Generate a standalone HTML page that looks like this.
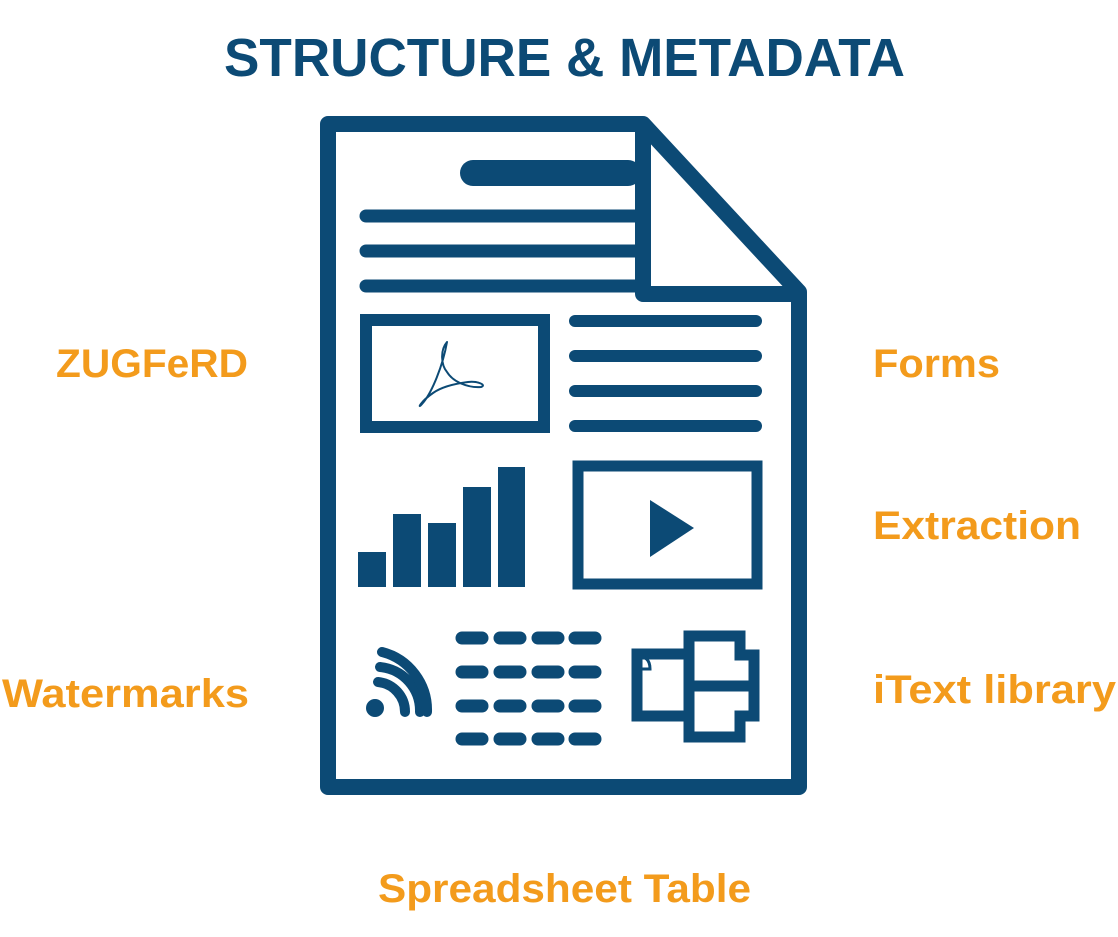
<!DOCTYPE html>
<html><head><meta charset="utf-8"><style>
html,body{margin:0;padding:0;background:#fff;}
svg{display:block;}
</style></head><body>
<svg width="1118" height="937" viewBox="0 0 1118 937" xmlns="http://www.w3.org/2000/svg">
<g font-family="'Liberation Sans', sans-serif" font-weight="bold">
<text x="224" y="76" font-size="54" fill="#0c4a75" textLength="681" lengthAdjust="spacingAndGlyphs">STRUCTURE &amp; METADATA</text>
<g fill="#f39b1c" font-size="40">
<text x="56" y="377" textLength="192" lengthAdjust="spacingAndGlyphs">ZUGFeRD</text>
<text x="873" y="377" textLength="127" lengthAdjust="spacingAndGlyphs">Forms</text>
<text x="873" y="539" textLength="208" lengthAdjust="spacingAndGlyphs">Extraction</text>
<text x="2" y="707" textLength="247" lengthAdjust="spacingAndGlyphs">Watermarks</text>
<text x="873" y="703" textLength="243" lengthAdjust="spacingAndGlyphs">iText library</text>
<text x="378" y="902" textLength="373" lengthAdjust="spacingAndGlyphs">Spreadsheet Table</text>
</g>
</g>
<g stroke="#0c4a75" fill="none" stroke-linejoin="round">
<g stroke-linecap="round">
<line x1="473" y1="173" x2="628" y2="173" stroke-width="26"/>
<line x1="366" y1="216" x2="636" y2="216" stroke-width="13"/>
<line x1="366" y1="251" x2="636" y2="251" stroke-width="13"/>
<line x1="366" y1="286" x2="636" y2="286" stroke-width="13"/>
<line x1="575" y1="321" x2="756" y2="321" stroke-width="12"/>
<line x1="575" y1="356" x2="756" y2="356" stroke-width="12"/>
<line x1="575" y1="391" x2="756" y2="391" stroke-width="12"/>
<line x1="575" y1="426" x2="756" y2="426" stroke-width="12"/>
</g>
<path d="M328 124 H643 L799 292 V787 H328 Z" stroke-width="16"/>
<path d="M643 124 V294 H799" stroke-width="16"/>
<rect x="366" y="320" width="178" height="107" stroke-width="12" stroke-linejoin="miter"/>
<rect x="578" y="466" width="179" height="118" stroke-width="11" stroke-linejoin="miter"/>
<path d="M447 342 C440 350,441 365,447 372 C453 382,468 388,481 387 C487 385,478 381,468 382 C452 384,440 388,433 393 C420 402,417 410,422 404 C432 393,443 365,447 342 Z" stroke-width="2"/>
<g stroke-width="11" stroke-linejoin="miter">
<rect x="637" y="654" width="52" height="62"/>
<path d="M689 636 H740 V655 H754 V686 H689 Z"/>
<path d="M689 686 H754 V716 H740 V737 H689 Z"/>
</g>
<g stroke-width="10" stroke-linecap="round">
<path d="M378 682 A30 30 0 0 1 405 712"/>
<path d="M380 667 A44 44 0 0 1 420 712"/>
<path d="M382 652 A60 60 0 0 1 427 712" />
</g>
<g stroke-width="13" stroke-linecap="round">
<path d="M462 638 H482 M500 638 H520 M538 638 H558 M575 638 H595"/>
<path d="M462 672 H482 M500 672 H520 M538 672 H558 M575 672 H595"/>
<path d="M462 706 H482 M500 706 H520 M538 706 H558 M575 706 H595"/>
<path d="M462 739 H482 M500 739 H520 M538 739 H558 M575 739 H595"/>
</g>
</g>
<g fill="#0c4a75">
<rect x="358" y="552" width="28" height="35"/>
<rect x="393" y="514" width="28" height="73"/>
<rect x="428" y="523" width="28" height="64"/>
<rect x="463" y="487" width="28" height="100"/>
<rect x="498" y="467" width="27" height="120"/>
<polygon points="650,500 650,557 694,528"/>
<circle cx="375" cy="708" r="9"/>
<path d="M636 657 Q650 655 650 669 H636 Z" fill="none" stroke="#0c4a75" stroke-width="3"/>
</g>
</svg>
</body></html>
